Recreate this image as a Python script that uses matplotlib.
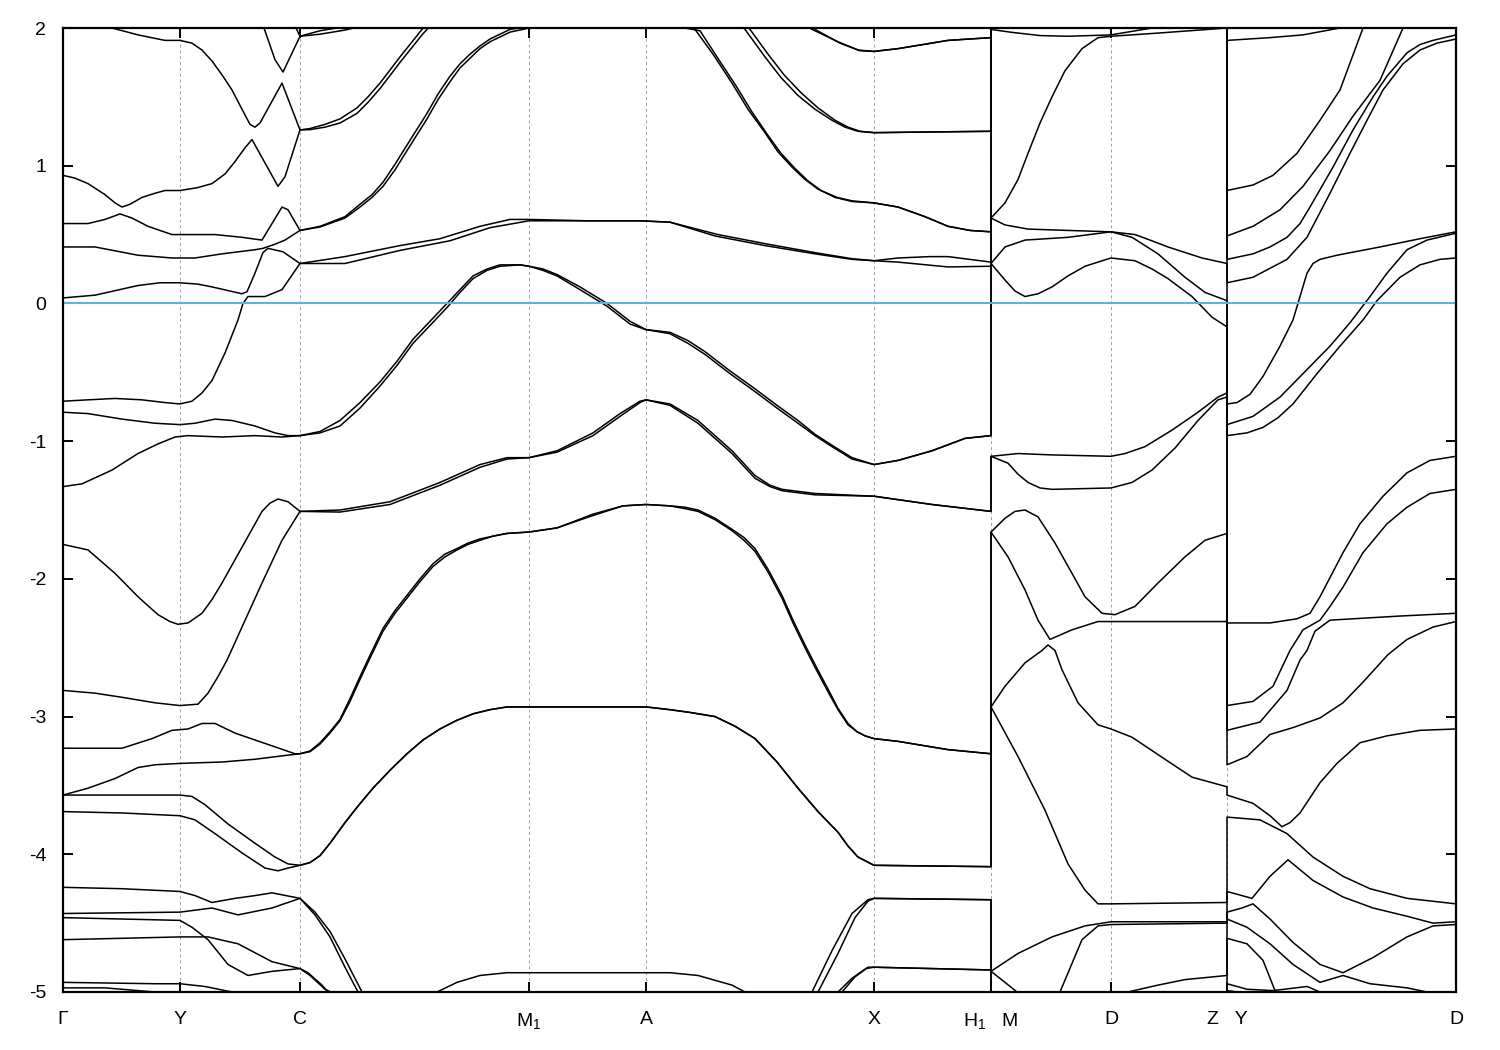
import matplotlib.pyplot as plt

plt.rcParams['font.family'] = ['Liberation Sans', 'DejaVu Sans']
plt.rcParams['mathtext.fontset'] = 'custom'
plt.rcParams['mathtext.rm'] = 'Liberation Sans'
plt.rcParams['mathtext.it'] = 'Liberation Sans'
plt.rcParams['mathtext.default'] = 'regular'
plt.rcParams['axes.unicode_minus'] = False

# high-symmetry points along the k-path (path coordinate, arbitrary units)
kpoints = [63, 180, 300, 529, 646, 874, 991, 1111, 1227, 1456]
klabels = ['Γ', 'Y', 'C', 'M$_1$', 'A', 'X', 'H$_1$   M', 'D', 'Z   Y', 'D']
e_ticks = [2, 1, 0, -1, -2, -3, -4, -5]

# bands as (k, E[eV]).
# three pieces: Γ-Y-C-M1-A-X-H1 | M-D-Z | Y-D ; repeated k = jump between pieces
band_t2 = [(63, 2.6), (180, 2.5), (240, 2.25), (264, 2.0), (275, 1.77), (283, 1.68), (300, 1.94),
           (320, 1.98), (345, 2.01), (400, 2.2), (529, 2.5), (700, 2.4), (790, 2.1), (812, 1.99),
           (838, 1.90), (858, 1.84), (874, 1.83), (898, 1.85), (948, 1.91), (991, 1.93),
           (991, 2.5), (1111, 2.6), (1227, 2.6),
           (1227, 2.7), (1456, 2.9)]
band_t3 = [(63, 2.7), (200, 2.6), (270, 2.5), (290, 2.3), (296, 2.0), (300, 1.94), (320, 1.955),
           (345, 1.985), (365, 2.02), (420, 2.2), (529, 2.45), (700, 2.35), (795, 2.08), (815, 1.99),
           (840, 1.89), (860, 1.835), (874, 1.83), (898, 1.85), (948, 1.91), (991, 1.93),
           (991, 2.6), (1111, 2.7), (1227, 2.7),
           (1227, 2.8), (1456, 3.0)]
band00 = [(63, 2.12), (88, 2.06), (112, 2.0), (138, 1.95), (165, 1.91), (180, 1.91), (192, 1.89),
          (202, 1.84), (212, 1.76), (222, 1.66), (232, 1.55), (242, 1.41), (250, 1.30), (255, 1.28),
          (260, 1.31), (282, 1.60), (300, 1.26), (310, 1.27),
          (325, 1.30), (340, 1.34), (357, 1.42), (368, 1.50), (380, 1.60), (400, 1.79), (422, 1.99),
          (450, 2.2), (529, 2.5), (646, 2.5), (720, 2.2), (745, 1.99), (755, 1.89), (765, 1.79),
          (781, 1.64), (798, 1.51), (815, 1.41), (832, 1.33), (845, 1.28),
          (858, 1.25), (874, 1.24), (930, 1.245), (991, 1.25),
          (991, 2.4), (1111, 2.5), (1227, 2.5),
          (1227, 1.91), (1270, 1.93), (1303, 1.95), (1340, 2.0), (1400, 2.3), (1456, 2.6)]
band01 = [(63, 0.93), (75, 0.91), (88, 0.87), (105, 0.79), (115, 0.73), (122, 0.70), (130, 0.72),
          (142, 0.77), (155, 0.80), (165, 0.82), (180, 0.82), (197, 0.84),
          (212, 0.87), (225, 0.94), (235, 1.03), (245, 1.13), (252, 1.19), (265, 1.02), (278, 0.85),
          (285, 0.92), (300, 1.26),
          (310, 1.262), (325, 1.28), (340, 1.31), (357, 1.38), (368, 1.46), (380, 1.56), (400, 1.75),
          (422, 1.95), (432, 2.03), (460, 2.2), (529, 2.45), (646, 2.45), (725, 2.2), (749, 2.0),
          (758, 1.91), (768, 1.81), (784, 1.66), (801, 1.53), (818, 1.42), (835, 1.33), (848, 1.28),
          (860, 1.25), (874, 1.24), (930, 1.245), (991, 1.25),
          (991, 2.3), (1111, 2.4), (1227, 2.4),
          (1227, 0.82), (1253, 0.86), (1273, 0.93), (1297, 1.09), (1320, 1.33), (1340, 1.55),
          (1363, 2.0), (1400, 2.4), (1456, 2.7)]
band02 = [(63, 0.58), (88, 0.58), (105, 0.61), (120, 0.65), (132, 0.62), (148, 0.56), (172, 0.50),
          (215, 0.50), (242, 0.48), (262, 0.46), (282, 0.70), (288, 0.68), (300, 0.53), (320, 0.56),
          (345, 0.63), (360, 0.72), (372, 0.79), (383, 0.88), (395, 1.01), (407, 1.15), (427, 1.38),
          (438, 1.52), (450, 1.65), (460, 1.74), (470, 1.81), (480, 1.87),
          (490, 1.92), (510, 1.99), (529, 2.01), (580, 2.04), (646, 2.04), (670, 2.03), (695, 1.99),
          (713, 1.81), (732, 1.60), (748, 1.41), (765, 1.24), (778, 1.10), (792, 0.99), (805, 0.90),
          (818, 0.83), (835, 0.77), (852, 0.74), (874, 0.73), (898, 0.70), (925, 0.63),
          (948, 0.56), (970, 0.53), (991, 0.52),
          (991, 1.99), (1010, 1.97), (1040, 1.945), (1068, 1.94), (1111, 1.95), (1152, 2.0),
          (1190, 2.04), (1227, 2.06),
          (1227, 0.32), (1253, 0.36), (1270, 0.41), (1287, 0.48), (1300, 0.58), (1310, 0.70),
          (1333, 0.99), (1353, 1.26), (1373, 1.50), (1387, 1.65), (1407, 1.82), (1420, 1.88),
          (1433, 1.91), (1456, 1.95)]
band03 = [(63, 0.41), (95, 0.41), (138, 0.35), (172, 0.33), (195, 0.33), (222, 0.36), (255, 0.39),
          (263, 0.40), (275, 0.43), (285, 0.46), (300, 0.53), (320, 0.555), (345, 0.62), (360, 0.70),
          (372, 0.77), (383, 0.85), (395, 0.97), (407, 1.11), (427, 1.34), (438, 1.48), (450, 1.61),
          (460, 1.71), (470, 1.78), (480, 1.85), (490, 1.90), (510, 1.97),
          (529, 2.0), (580, 2.03), (646, 2.03), (670, 2.02), (700, 1.98), (717, 1.79), (736, 1.58),
          (752, 1.39), (768, 1.22), (781, 1.09), (795, 0.98), (808, 0.89),
          (821, 0.82), (837, 0.77), (852, 0.745), (874, 0.73), (898, 0.70), (925, 0.63), (948, 0.56),
          (970, 0.53), (991, 0.52),
          (991, 2.3), (1111, 2.3), (1227, 2.2),
          (1227, 0.49), (1253, 0.56), (1280, 0.68), (1303, 0.85), (1330, 1.11), (1353, 1.36),
          (1380, 1.62), (1403, 2.0), (1430, 2.3), (1456, 2.5)]
band04 = [(63, 0.04), (95, 0.06), (138, 0.13), (160, 0.15), (180, 0.15), (198, 0.14), (212, 0.12),
          (242, 0.07), (247, 0.085),
          (255, 0.22), (263, 0.37), (268, 0.40), (283, 0.375), (300, 0.29), (345, 0.34), (400, 0.42),
          (440, 0.47), (480, 0.56), (510, 0.61), (529, 0.61), (587, 0.60), (640, 0.60), (670, 0.59),
          (715, 0.49), (765, 0.42), (815, 0.36), (852, 0.32), (874, 0.31), (898, 0.33), (930, 0.34),
          (948, 0.34), (991, 0.30),
          (991, 0.62), (1005, 0.57), (1028, 0.54), (1068, 0.53), (1111, 0.52), (1135, 0.50),
          (1150, 0.46), (1168, 0.41), (1185, 0.37), (1202, 0.33), (1227, 0.29),
          (1227, -0.73), (1237, -0.72), (1250, -0.66), (1263, -0.53), (1280, -0.31), (1293, -0.12),
          (1300, 0.05), (1307, 0.22), (1313, 0.29), (1320, 0.32), (1337, 0.35), (1380, 0.41),
          (1420, 0.47), (1456, 0.52)]
band05 = [(63, -0.71), (88, -0.70), (115, -0.69), (142, -0.70), (165, -0.72), (180, -0.73),
          (192, -0.71), (202, -0.65), (212, -0.56), (225, -0.36), (238, -0.12), (243, 0.0),
          (248, 0.05), (252, 0.05), (265, 0.05), (282, 0.10), (300, 0.29), (345, 0.29), (400, 0.385),
          (450, 0.455), (490, 0.55), (529, 0.60), (587, 0.60), (640, 0.60), (670, 0.59), (718, 0.50),
          (768, 0.43), (818, 0.365), (852, 0.325), (874, 0.31), (898, 0.30), (948, 0.265), (991, 0.27),
          (991, 0.62), (1005, 0.73), (1018, 0.90), (1028, 1.09), (1040, 1.31), (1052, 1.50),
          (1065, 1.69), (1082, 1.85), (1098, 1.93), (1111, 1.94), (1152, 1.96), (1190, 1.98),
          (1227, 2.0),
          (1227, 0.15), (1253, 0.19), (1287, 0.32), (1307, 0.48), (1330, 0.80), (1350, 1.09),
          (1367, 1.33), (1383, 1.55), (1403, 1.74), (1420, 1.84), (1437, 1.89), (1456, 1.92)]
band06 = [(63, -0.79), (88, -0.80), (122, -0.84), (155, -0.87), (180, -0.88), (195, -0.87),
          (215, -0.84), (232, -0.85), (255, -0.89), (275, -0.94), (288, -0.96), (300, -0.96),
          (320, -0.94), (340, -0.89), (360, -0.76), (380, -0.60), (397, -0.45), (413, -0.29),
          (430, -0.16), (447, -0.03), (460, 0.08), (473, 0.18), (487, 0.24),
          (500, 0.27), (520, 0.28), (529, 0.27), (543, 0.25), (557, 0.21), (580, 0.12), (607, 0.0),
          (630, -0.13), (646, -0.19), (670, -0.21), (688, -0.27), (705, -0.35), (730, -0.49),
          (755, -0.62), (777, -0.74), (798, -0.85), (815, -0.95), (832, -1.03),
          (852, -1.12), (874, -1.17), (898, -1.14), (932, -1.07), (965, -0.98), (991, -0.96),
          (991, 0.29), (1005, 0.17), (1015, 0.09), (1025, 0.05), (1038, 0.07), (1052, 0.12),
          (1068, 0.20), (1085, 0.27), (1111, 0.33),
          (1135, 0.31), (1152, 0.25), (1168, 0.18), (1192, 0.05), (1212, -0.10), (1227, -0.17),
          (1227, -0.96), (1247, -0.94), (1263, -0.90), (1278, -0.83), (1293, -0.73), (1317, -0.51),
          (1340, -0.31), (1363, -0.12), (1377, 0.02), (1400, 0.19), (1420, 0.28), (1440, 0.32),
          (1456, 0.33)]
band07 = [(63, -1.33), (82, -1.31), (112, -1.21), (138, -1.09), (158, -1.02), (175, -0.97),
          (188, -0.96), (222, -0.97), (255, -0.96), (282, -0.97), (300, -0.96), (320, -0.93),
          (340, -0.85), (360, -0.72), (380, -0.57), (397, -0.42), (413, -0.26), (430, -0.13),
          (447, 0.0), (460, 0.10), (473, 0.20), (487, 0.25), (500, 0.28), (520, 0.28),
          (529, 0.27), (543, 0.24), (557, 0.20), (580, 0.10), (607, -0.02), (630, -0.15), (646, -0.19),
          (670, -0.22), (688, -0.29), (705, -0.37), (730, -0.51), (755, -0.64), (777, -0.76),
          (798, -0.87), (815, -0.96), (832, -1.04), (852, -1.13),
          (874, -1.17), (898, -1.14), (932, -1.07), (965, -0.98), (991, -0.96),
          (991, 0.29), (1005, 0.41), (1025, 0.46), (1068, 0.48), (1111, 0.52), (1132, 0.48),
          (1158, 0.36), (1185, 0.19), (1205, 0.08), (1227, 0.02),
          (1227, -0.88), (1253, -0.82), (1280, -0.68), (1303, -0.51), (1330, -0.31), (1350, -0.14),
          (1370, 0.05), (1387, 0.22), (1407, 0.39), (1427, 0.46), (1456, 0.51)]
band08 = [(63, -1.75), (88, -1.79), (115, -1.96), (138, -2.13), (158, -2.26), (170, -2.31),
          (178, -2.33), (188, -2.32), (202, -2.25), (212, -2.15), (222, -2.03), (242, -1.77),
          (262, -1.51), (270, -1.45), (278, -1.42),
          (288, -1.44), (300, -1.51), (340, -1.50), (390, -1.44), (440, -1.30), (480, -1.17),
          (507, -1.12), (529, -1.12), (557, -1.07), (593, -0.94), (620, -0.80), (640, -0.71),
          (646, -0.70), (670, -0.73), (698, -0.85), (715, -0.96), (732, -1.07), (755, -1.25),
          (770, -1.32), (782, -1.35),
          (815, -1.38), (874, -1.40), (932, -1.46), (991, -1.51),
          (991, -1.11), (1008, -1.16), (1018, -1.24), (1028, -1.30), (1040, -1.34), (1052, -1.35),
          (1111, -1.34), (1132, -1.30),
          (1152, -1.21), (1175, -1.05), (1198, -0.85), (1218, -0.70), (1227, -0.68),
          (1227, -2.92), (1253, -2.89), (1273, -2.78), (1290, -2.52), (1303, -2.37), (1320, -2.30),
          (1330, -2.20), (1343, -2.06), (1363, -1.81), (1387, -1.60), (1407, -1.48), (1430, -1.38),
          (1456, -1.35)]
band09 = [(63, -2.81), (95, -2.83), (122, -2.86), (155, -2.90), (180, -2.92), (198, -2.91),
          (208, -2.83), (218, -2.71), (227, -2.59), (242, -2.35), (262, -2.03), (282, -1.72),
          (300, -1.51), (340, -1.515), (390, -1.46), (440, -1.32), (480, -1.19), (507, -1.13),
          (529, -1.12), (557, -1.08), (593, -0.96), (620, -0.82), (640, -0.72), (646, -0.70),
          (670, -0.74), (698, -0.87), (715, -0.98), (732, -1.09), (755, -1.27), (770, -1.33),
          (782, -1.36), (815, -1.39),
          (874, -1.40), (932, -1.46), (991, -1.51),
          (991, -1.11), (1018, -1.09), (1052, -1.10), (1111, -1.11), (1125, -1.09), (1145, -1.04),
          (1172, -0.92), (1198, -0.79), (1218, -0.68), (1227, -0.65),
          (1227, -2.32), (1270, -2.32), (1297, -2.29), (1310, -2.25), (1320, -2.13), (1343, -1.81),
          (1360, -1.60), (1383, -1.40), (1407, -1.23), (1430, -1.14), (1456, -1.11)]
band10 = [(63, -3.23), (95, -3.23), (122, -3.23), (152, -3.16), (172, -3.10), (188, -3.09),
          (202, -3.05), (215, -3.05), (235, -3.12), (255, -3.17), (275, -3.22), (295, -3.27),
          (300, -3.27), (310, -3.25), (320, -3.19), (330, -3.11), (340, -3.02), (350, -2.87),
          (360, -2.71), (371, -2.54), (383, -2.36), (395, -2.23), (407, -2.12), (420, -2.00),
          (433, -1.89), (445, -1.82), (457, -1.78), (468, -1.74), (480, -1.71), (493, -1.69),
          (507, -1.67), (529, -1.66), (557, -1.63), (593, -1.53), (623, -1.47), (646, -1.46),
          (670, -1.47), (685, -1.48), (698, -1.50), (715, -1.56), (732, -1.64), (744, -1.70),
          (755, -1.78), (768, -1.93), (782, -2.12), (793, -2.30), (805, -2.48), (817, -2.65),
          (828, -2.80), (838, -2.94), (848, -3.05), (857, -3.11), (865, -3.14), (874, -3.16),
          (898, -3.18), (948, -3.24), (991, -3.27),
          (991, -1.66), (1008, -1.84), (1025, -2.08), (1038, -2.30), (1050, -2.44), (1072, -2.37),
          (1098, -2.31), (1135, -2.31), (1227, -2.31),
          (1227, -3.35), (1247, -3.29), (1270, -3.13), (1293, -3.08), (1320, -3.01), (1343, -2.90),
          (1363, -2.75), (1388, -2.55), (1407, -2.44), (1433, -2.35), (1456, -2.31)]
band11 = [(63, -3.57), (88, -3.52), (115, -3.45), (138, -3.37), (155, -3.35), (180, -3.34),
          (222, -3.33), (255, -3.31), (288, -3.28), (300, -3.27), (310, -3.255), (320, -3.20),
          (330, -3.12), (340, -3.03), (350, -2.89), (360, -2.73), (371, -2.56), (383, -2.38),
          (395, -2.25), (407, -2.14), (420, -2.02), (433, -1.91), (445, -1.84), (457, -1.79),
          (468, -1.75), (480, -1.72), (493, -1.69), (507, -1.67), (529, -1.66), (557, -1.63),
          (593, -1.54), (623, -1.47), (646, -1.46), (670, -1.47), (685, -1.49), (698, -1.51),
          (715, -1.57), (732, -1.65), (744, -1.72), (755, -1.80), (768, -1.95), (782, -2.14),
          (793, -2.32), (805, -2.50), (817, -2.67), (828, -2.82), (838, -2.95), (848, -3.06),
          (857, -3.11), (865, -3.14), (874, -3.16),
          (898, -3.18), (948, -3.24), (991, -3.27),
          (991, -1.66), (1005, -1.56), (1015, -1.51), (1025, -1.50), (1038, -1.55), (1055, -1.74),
          (1072, -1.96), (1085, -2.13), (1102, -2.25), (1115, -2.26), (1135, -2.20), (1158, -2.03),
          (1185, -1.84), (1205, -1.72), (1227, -1.67),
          (1227, -3.10), (1260, -3.04), (1287, -2.81), (1300, -2.59), (1307, -2.52), (1315, -2.38),
          (1330, -2.30), (1353, -2.29), (1400, -2.27), (1456, -2.25)]
band12 = [(63, -3.57), (122, -3.57), (180, -3.57), (192, -3.58), (205, -3.64), (228, -3.78),
          (255, -3.92), (275, -4.02), (288, -4.07), (300, -4.08), (310, -4.06), (320, -4.01),
          (330, -3.92), (345, -3.77), (358, -3.65), (373, -3.52), (390, -3.39), (407, -3.27),
          (423, -3.17), (440, -3.09), (456, -3.03), (473, -2.98), (490, -2.95),
          (507, -2.93), (529, -2.93), (646, -2.93), (670, -2.95), (690, -2.97), (715, -3.00),
          (735, -3.07), (755, -3.16), (777, -3.33), (798, -3.52), (818, -3.69), (838, -3.84),
          (848, -3.94), (858, -4.02), (874, -4.08), (991, -4.09),
          (991, -2.93), (1018, -3.29), (1045, -3.68), (1068, -4.07), (1085, -4.26), (1098, -4.36),
          (1111, -4.36), (1227, -4.35),
          (1227, -3.73), (1260, -3.75), (1287, -3.85), (1313, -4.02), (1343, -4.16), (1370, -4.25),
          (1407, -4.32), (1456, -4.36)]
band13 = [(63, -3.69), (122, -3.70), (180, -3.72), (195, -3.75), (215, -3.85), (242, -3.99),
          (265, -4.10), (278, -4.12), (288, -4.10), (300, -4.08), (310, -4.06), (320, -4.01),
          (330, -3.92), (345, -3.77), (358, -3.65), (373, -3.52), (390, -3.39), (407, -3.27),
          (423, -3.17), (440, -3.09), (456, -3.03), (473, -2.98), (490, -2.95),
          (507, -2.93), (529, -2.93), (646, -2.93), (670, -2.95), (690, -2.97), (715, -3.00),
          (735, -3.07), (755, -3.16), (777, -3.33), (798, -3.52), (818, -3.69), (838, -3.84),
          (848, -3.94), (858, -4.02), (874, -4.08), (991, -4.09),
          (991, -2.93), (1005, -2.78), (1025, -2.61), (1042, -2.52), (1048, -2.48), (1055, -2.52),
          (1062, -2.66), (1078, -2.90), (1098, -3.06), (1111, -3.09), (1132, -3.15), (1165, -3.31),
          (1192, -3.44), (1227, -3.51),
          (1227, -3.57), (1253, -3.63), (1270, -3.72), (1282, -3.80), (1290, -3.77), (1300, -3.70),
          (1320, -3.48), (1337, -3.34), (1360, -3.19), (1387, -3.14), (1420, -3.10), (1456, -3.09)]
band14 = [(63, -4.24), (122, -4.25), (180, -4.27), (195, -4.30), (212, -4.35), (235, -4.32),
          (255, -4.30), (272, -4.28), (300, -4.32), (315, -4.42), (330, -4.56), (345, -4.76),
          (362, -5.0), (380, -5.25), (420, -5.6), (600, -5.9), (760, -5.5), (790, -5.2), (812, -5.0),
          (832, -4.70), (852, -4.43), (868, -4.33), (874, -4.32), (991, -4.33),
          (991, -4.85), (1005, -4.93), (1017, -5.0), (1035, -5.15), (1050, -5.1), (1060, -5.0),
          (1082, -4.62), (1098, -4.52), (1111, -4.51), (1227, -4.50),
          (1227, -4.42), (1242, -4.39), (1253, -4.36), (1270, -4.47), (1293, -4.64), (1320, -4.80),
          (1343, -4.86), (1373, -4.75), (1407, -4.60), (1433, -4.52), (1456, -4.51)]
band15 = [(63, -4.43), (180, -4.42), (212, -4.39), (238, -4.44), (272, -4.39), (300, -4.32),
          (315, -4.44), (330, -4.60), (345, -4.82), (358, -5.0), (380, -5.3), (420, -5.65),
          (600, -5.95), (760, -5.55), (795, -5.2), (818, -5.0), (838, -4.72), (855, -4.46),
          (868, -4.34), (874, -4.32), (991, -4.33),
          (991, -4.85), (1018, -4.72), (1052, -4.60), (1085, -4.52), (1111, -4.49), (1227, -4.49),
          (1227, -4.27), (1252, -4.32), (1270, -4.16), (1288, -4.04), (1313, -4.19), (1343, -4.31),
          (1373, -4.39), (1407, -4.45), (1433, -4.50), (1456, -4.49)]
band16 = [(63, -4.46), (180, -4.48), (192, -4.53), (208, -4.62), (228, -4.80), (248, -4.88),
          (272, -4.85), (300, -4.83), (308, -4.86), (322, -4.95), (328, -5.0), (345, -5.2),
          (400, -5.5), (700, -5.5), (820, -5.2), (842, -5.0), (855, -4.89), (868, -4.82),
          (874, -4.82), (991, -4.84),
          (991, -5.3), (1111, -5.4), (1227, -5.2),
          (1227, -4.61), (1247, -4.65), (1263, -4.77), (1275, -4.99), (1290, -5.2), (1456, -5.5)]
band17 = [(63, -4.62), (122, -4.61), (180, -4.60), (208, -4.60), (238, -4.65), (272, -4.78),
          (300, -4.83), (310, -4.88), (325, -4.98), (331, -5.0), (350, -5.25), (420, -5.6),
          (700, -5.6), (815, -5.25), (838, -5.0), (852, -4.90), (866, -4.83), (874, -4.82),
          (991, -4.84),
          (991, -5.2), (1050, -5.3), (1100, -5.2), (1128, -5.0), (1158, -4.95), (1185, -4.91),
          (1227, -4.88),
          (1227, -4.47), (1247, -4.53), (1270, -4.65), (1293, -4.80), (1320, -4.93), (1343, -4.88),
          (1370, -4.94), (1407, -4.97), (1427, -5.0), (1456, -5.1)]
band18 = [(63, -4.93), (155, -4.94), (180, -4.94), (205, -4.96), (232, -5.0), (260, -5.1),
          (300, -5.15), (400, -5.1), (437, -5.0), (457, -4.93), (480, -4.88), (507, -4.86),
          (529, -4.86), (670, -4.86), (698, -4.88), (732, -4.95), (745, -5.0), (800, -5.2),
          (991, -5.3),
          (991, -5.4), (1111, -5.5), (1227, -5.3),
          (1227, -4.94), (1247, -4.98), (1273, -4.99), (1307, -4.96), (1320, -5.0), (1350, -5.2),
          (1456, -5.5)]
band19 = [(63, -4.97), (105, -4.97), (155, -5.0), (200, -5.1), (991, -5.5),
          (991, -5.6), (1227, -5.5),
          (1227, -4.99), (1260, -5.02), (1456, -5.4)]

bands = [band_t2, band_t3, band00, band01, band02, band03, band04, band05, band06, band07,
         band08, band09, band10, band11, band12, band13, band14, band15, band16, band17,
         band18, band19]

fig, ax = plt.subplots(figsize=(15, 10.5), dpi=100)
fig.subplots_adjust(left=63 / 1500, right=1456 / 1500, bottom=1 - 992 / 1050, top=1 - 28 / 1050)

for k in kpoints:
    ax.axvline(k, color='#a0a0a0', lw=0.7, ls=(0, (3, 3)), zorder=1)

for b in bands:
    ax.plot([p[0] for p in b], [p[1] for p in b], color='black', lw=1.1, zorder=2)

ax.axhline(0, color='#56b4e9', lw=1.5, zorder=3)

ax.set_xlim(kpoints[0], kpoints[-1])
ax.set_ylim(-5, 2)
ax.set_xticks(kpoints)
ax.set_xticklabels(klabels)
ax.set_yticks(e_ticks)
ax.set_yticklabels([str(v) for v in e_ticks])
ax.tick_params(direction='in', length=7, width=1.4, top=True, right=True, labelsize=14)
ax.tick_params(axis='x', pad=14)
ax.tick_params(axis='y', pad=12)
for s in ax.spines.values():
    s.set_linewidth(1.6)
    s.set_zorder(4)

fig.savefig('out.png', dpi=100)
